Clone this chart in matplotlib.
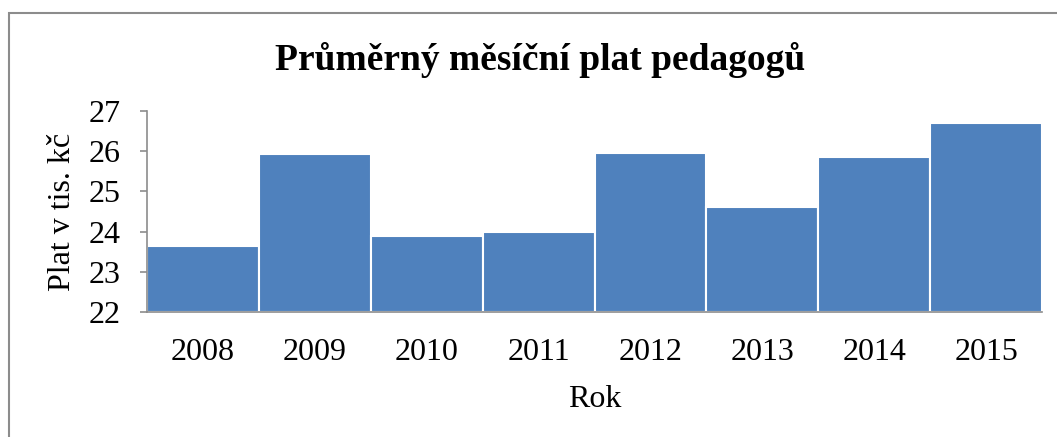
import matplotlib
matplotlib.use("Agg")
import matplotlib.pyplot as plt
from matplotlib.patches import Rectangle

years = ["2008", "2009", "2010", "2011", "2012", "2013", "2014", "2015"]
salary = [23.65, 25.92, 23.88, 24.0, 25.95, 24.6, 25.86, 26.69]
yticks = [22, 23, 24, 25, 26, 27]

title = "Průměrný měsíční plat pedagogů"
xlabel = "Rok"
ylabel = "Plat v tis. kč"

plt.rcParams['font.family'] = ['Liberation Serif', 'DejaVu Serif']

W, H = 1057, 437
fig = plt.figure(figsize=(W / 100, H / 100), dpi=100)
fig.patch.set_facecolor("white")

# outer chart border
fig.patches.append(Rectangle((9 / W, -0.1), 1.2, 1 - 13 / H + 0.1,
                             transform=fig.transFigure, fill=False,
                             edgecolor="#8c8c8c", linewidth=1.5))

ax = fig.add_axes([147 / W, 1 - 312 / H, (1042 - 147) / W, (312 - 111) / H])
x = list(range(len(years)))
ax.bar(x, [v - 22 for v in salary], bottom=22, width=1.0, color="#4F81BD",
       edgecolor="white", linewidth=1.5)
ax.set_xlim(-0.5, len(years) - 0.5)
ax.set_ylim(22, 27)
ax.set_yticks(yticks)
ax.set_yticklabels([str(t) for t in yticks])
ax.set_xticks(x)
ax.set_xticklabels(years)

for s in ["top", "right"]:
    ax.spines[s].set_visible(False)
for s in ["left", "bottom"]:
    ax.spines[s].set_color("#8c8c8c")
    ax.spines[s].set_linewidth(1.2)

ax.tick_params(axis="y", direction="out", length=5, width=1.2, color="#8c8c8c",
               labelsize=23, pad=14)
ax.tick_params(axis="x", length=0, labelsize=23, pad=19)

ax.set_xlabel(xlabel, fontsize=23, labelpad=13)
ax.set_ylabel(ylabel, fontsize=23, labelpad=8)

fig.text(540 / W, 1 - 60 / H, title, ha="center", va="center",
         fontsize=27, fontweight="bold")

fig.savefig("out.png", dpi=100, facecolor="white")
